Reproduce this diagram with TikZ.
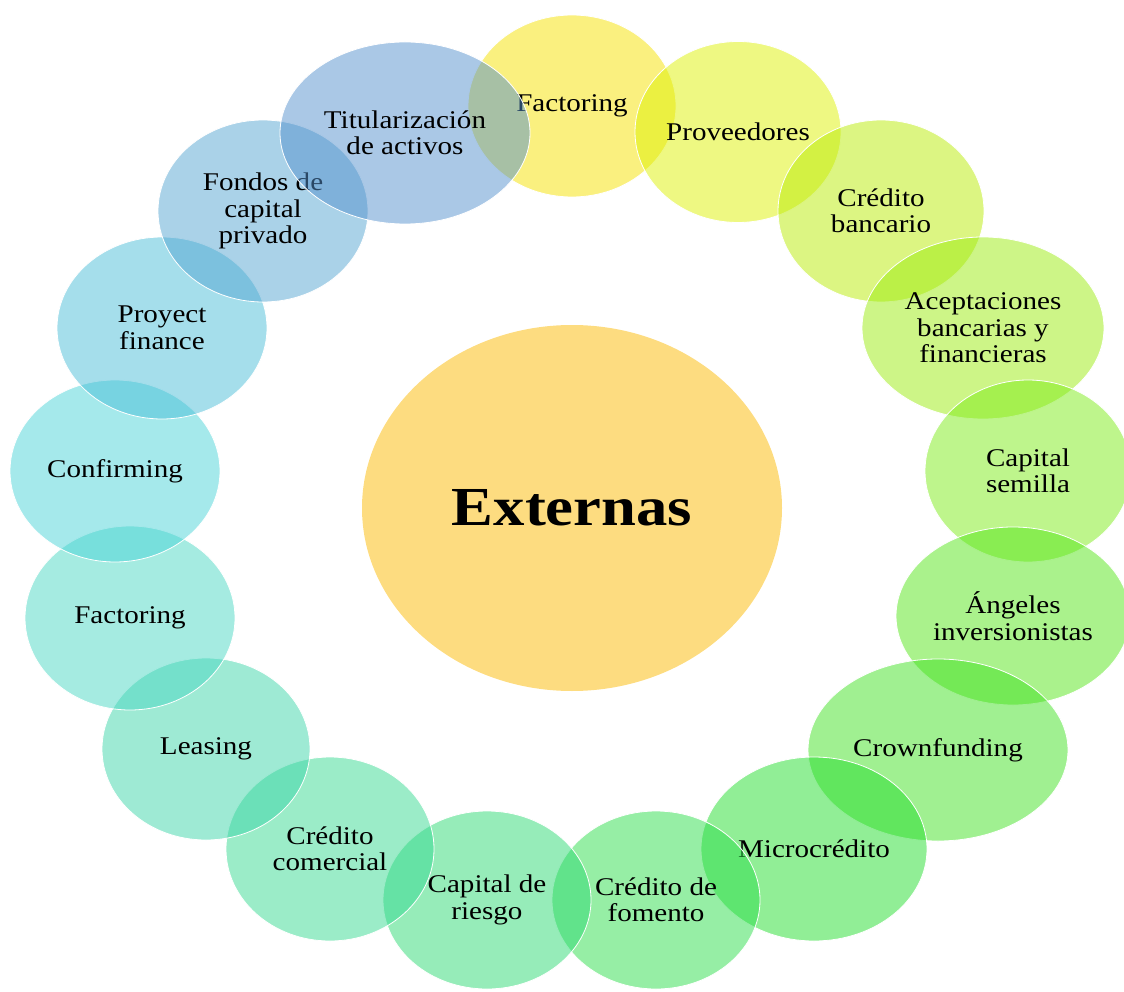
\documentclass[tikz,border=0pt]{standalone}
\usepackage{fontspec}
\setmainfont{Liberation Serif}[FakeStretch=1.14]
\usetikzlibrary{shapes.geometric}
\definecolor{cCentro}{RGB}{253,220,128}
\definecolor{c1}{RGB}{245,225,0}
\definecolor{c2}{RGB}{221,241,5}
\definecolor{c3}{RGB}{185,235,5}
\definecolor{c4}{RGB}{155,235,15}
\definecolor{c5}{RGB}{125,235,25}
\definecolor{c6}{RGB}{85,229,25}
\definecolor{c7}{RGB}{65,225,35}
\definecolor{c8}{RGB}{35,221,45}
\definecolor{c9}{RGB}{45,221,75}
\definecolor{c10}{RGB}{45,217,115}
\definecolor{c11}{RGB}{55,217,145}
\definecolor{c12}{RGB}{61,213,169}
\definecolor{c13}{RGB}{75,215,195}
\definecolor{c14}{RGB}{75,211,215}
\definecolor{c15}{RGB}{75,189,215}
\definecolor{c16}{RGB}{85,165,209}
\definecolor{c17}{RGB}{85,145,205}
\tikzset{
    burbuja/.style={ellipse, draw=white, line width=0.8pt, fill opacity=0.5, text opacity=1, inner sep=0pt, align=center, font=\fontsize{25.5}{26.5}\selectfont}, % 外圈椭圆的样式
    centro/.style={ellipse, fill=cCentro, inner sep=0pt, font=\fontsize{55}{60}\selectfont\bfseries} % 中心椭圆的样式
}

\begin{document}
\begin{tikzpicture}[x=1pt, y=-1pt]
    \useasboundingbox (0,0) rectangle (1124,992);

    \node[centro, minimum width=420pt, minimum height=366pt] (externas) at (572,508) {Externas};

    \foreach \n/\x/\y/\w/\h/\t [count=\i] in {
        factA/572/106/208/182/{Factoring},
        proveedores/738/132/206/181/{Proveedores},
        bancario/881/211/206/182/{Crédito\\bancario},
        aceptaciones/983/328/242/182/{Aceptaciones\\bancarias y\\financieras},
        semilla/1028/471/206/182/{Capital\\semilla},
        angeles/1013/616/234/178/{Ángeles\\inversionistas},
        crown/938/750/260/182/{Crownfunding},
        micro/814/849/226/184/{Microcrédito},
        fomento/656/900/208/178/{Crédito de\\fomento},
        riesgo/487/900/208/178/{Capital de\\riesgo},
        comercial/330/849/208/184/{Crédito\\comercial},
        leasing/206/749/208/182/{Leasing},
        factB/130/618/210/184/{Factoring},
        confirming/115/471/210/182/{Confirming},
        proyect/162/328/210/182/{Proyect\\finance},
        fondos/263/211/210/182/{Fondos de\\capital\\privado},
        titulos/405/133/250/182/{Titularización\\de activos}} {
        \node[burbuja, fill=c\i, minimum width=\w pt, minimum height=\h pt] (\n) at (\x,\y) {\t};
    }
\end{tikzpicture}
\end{document}
